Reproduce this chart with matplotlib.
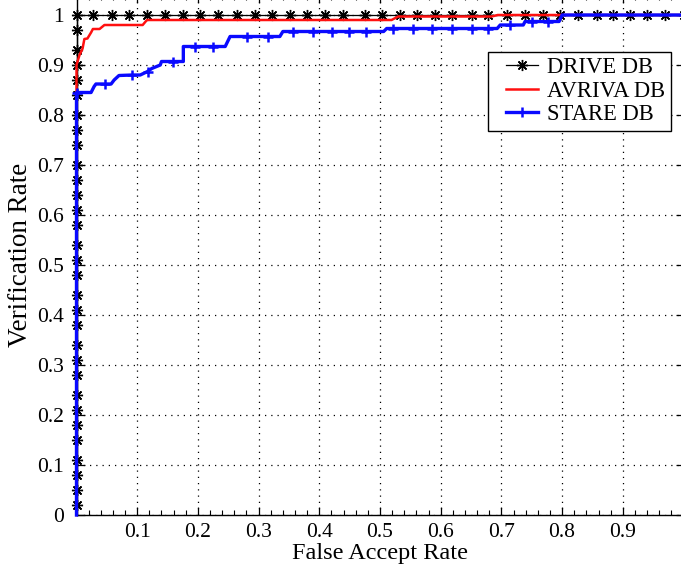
import matplotlib
matplotlib.use("Agg")
import matplotlib.pyplot as plt
from matplotlib.ticker import MultipleLocator, FixedLocator
from matplotlib.legend_handler import HandlerLine2D

plt.rcParams['font.family'] = ['Liberation Serif', 'DejaVu Serif']

# ---------------- data ----------------
# DRIVE DB : vertical along FAR=0 then flat at 1
drive_vr_left = [0.02, 0.05, 0.08, 0.11, 0.15, 0.18, 0.21, 0.24, 0.28, 0.31,
                 0.34, 0.38, 0.41, 0.44, 0.48, 0.51, 0.54, 0.58, 0.61, 0.64,
                 0.67, 0.70, 0.74, 0.77, 0.80, 0.84, 0.87, 0.90, 0.93, 0.97, 1.0]
drive_far_top = [0.027, 0.058, 0.086, 0.116, 0.146, 0.175, 0.203, 0.233, 0.264,
                 0.294, 0.322, 0.352, 0.379, 0.41, 0.439, 0.475, 0.503, 0.533,
                 0.561, 0.591, 0.618, 0.652, 0.678, 0.709, 0.739, 0.768, 0.797,
                 0.826, 0.857, 0.884, 0.912, 0.94, 0.97, 1.0]
drive_far = [0.0] * len(drive_vr_left) + drive_far_top
drive_vr = drive_vr_left + [1.0] * len(drive_far_top)

# AVRIVA DB
avriva_far = [0.0, 0.0, 0.005, 0.010, 0.013, 0.018, 0.024, 0.027, 0.038, 0.046,
              0.109, 0.116, 0.519, 0.530, 0.684, 0.694, 1.0]
avriva_vr = [0.0, 0.90, 0.92, 0.933, 0.952, 0.953, 0.965, 0.972, 0.972, 0.98,
             0.98, 0.99, 0.99, 0.997, 0.997, 1.0, 1.0]

# STARE DB (vertices; flag = marker shown)
stare_far = [0.0, 0.0, 0.024, 0.029, 0.032, 0.047, 0.057, 0.062, 0.070, 0.092,
             0.105, 0.117, 0.124, 0.138, 0.140, 0.159, 0.176, 0.176, 0.195, 0.225,
             0.245, 0.253, 0.281, 0.316, 0.335, 0.340, 0.357, 0.390, 0.421, 0.449,
             0.477, 0.506, 0.511, 0.522, 0.554, 0.586, 0.619, 0.652, 0.678, 0.693,
             0.698, 0.714, 0.736, 0.739, 0.750, 0.777, 0.795, 0.800, 1.0]
stare_vr = [0.0, 0.845, 0.845, 0.857, 0.862, 0.862, 0.862, 0.870, 0.879, 0.880,
            0.880, 0.887, 0.893, 0.900, 0.907, 0.907, 0.907, 0.937, 0.937, 0.937,
            0.937, 0.957, 0.957, 0.957, 0.957, 0.967, 0.967, 0.967, 0.967, 0.967,
            0.967, 0.967, 0.973, 0.973, 0.973, 0.973, 0.973, 0.973, 0.973, 0.973,
            0.980, 0.980, 0.980, 0.987, 0.987, 0.987, 0.987, 1.0, 1.0]
stare_mark = [0, 1, 0, 0, 0, 1, 0, 0, 0, 1,
              0, 1, 0, 0, 0, 1, 0, 0, 1, 1,
              0, 0, 1, 1, 0, 0, 1, 1, 1, 1,
              1, 0, 0, 1, 1, 1, 1, 1, 1, 0,
              0, 1, 0, 0, 1, 1, 0, 0, 0]

labels = ['DRIVE DB', 'AVRIVA DB', 'STARE DB']
x_ticks = [0.1, 0.2, 0.3, 0.4, 0.5, 0.6, 0.7, 0.8, 0.9]
y_ticks = [0, 0.1, 0.2, 0.3, 0.4, 0.5, 0.6, 0.7, 0.8, 0.9, 1.0]
y_tick_labels = ['0', '0.1', '0.2', '0.3', '0.4', '0.5', '0.6', '0.7', '0.8', '0.9', '1']

# ---------------- figure ----------------
W, H = 681, 574
fig = plt.figure(figsize=(W / 100, H / 100), dpi=100)
left_px, right_px, bottom_px, top_px = 76.5, 683.5, 515, -5
ax = fig.add_axes([left_px / W, 1 - bottom_px / H,
                   (right_px - left_px) / W, (bottom_px - top_px) / H])

asterisk = (8, 2, 0)
l1, = ax.plot(drive_far, drive_vr, color='black', lw=0.9, marker=asterisk, ms=8,
              mew=1.0, label=labels[0], zorder=3, clip_on=False)
l2, = ax.plot(avriva_far, avriva_vr, color='#ff1010', lw=1.8, label=labels[1],
              zorder=4, clip_on=False)
l3, = ax.plot(stare_far, stare_vr, color='#0a0aff', lw=2.4, marker='+', ms=7,
              mew=1.8, markevery=[bool(m) for m in stare_mark], label=labels[2],
              zorder=5, clip_on=False)

ax.set_xlim(0, 1.0)
ax.set_ylim(0, 1.04)

ax.xaxis.set_major_locator(FixedLocator(x_ticks))
ax.xaxis.set_minor_locator(MultipleLocator(0.02))
ax.set_yticks(y_ticks)
ax.set_yticklabels(y_tick_labels)
ax.set_xticklabels([f'{v:g}' for v in x_ticks])

ax.tick_params(axis='both', which='major', direction='in', length=6, width=0.9,
               labelsize=15.5, colors='black', top=True, right=True)
ax.tick_params(axis='x', which='minor', direction='in', length=3.5, width=0.8,
               top=True)
ax.tick_params(axis='x', pad=5.5)
ax.tick_params(axis='y', pad=9)

ax.grid(True, which='major', linestyle=(0, (1, 4)), color='black', lw=0.9)
for s in ax.spines.values():
    s.set_linewidth(1.0)
    s.set_color('black')

ax.set_xlabel('False Accept Rate', fontsize=17.5, labelpad=1)
ax.set_ylabel('Verification Rate', fontsize=19.5, labelpad=3)


class OffsetLineHandler(HandlerLine2D):
    def create_artists(self, legend, orig_handle, xdescent, ydescent, width,
                       height, fontsize, trans):
        shift = 0.29 * width
        return super().create_artists(legend, orig_handle, xdescent - shift,
                                      ydescent, width - shift, height,
                                      fontsize, trans)


leg_x = (488 - left_px) / (right_px - left_px)
leg_y = (bottom_px - 51.7) / (bottom_px - top_px)
leg = ax.legend(handles=[l1, l2, l3], loc='upper left',
                bbox_to_anchor=(leg_x, leg_y), borderaxespad=0,
                fontsize=16.3, frameon=True, fancybox=False, framealpha=1,
                edgecolor='black', handlelength=1.95, handletextpad=0.42,
                borderpad=0.25, labelspacing=0.1,
                handler_map={l1: OffsetLineHandler(), l2: OffsetLineHandler(),
                             l3: OffsetLineHandler()})
leg.get_frame().set_linewidth(1.0)

fig.savefig('out.png', dpi=100)
